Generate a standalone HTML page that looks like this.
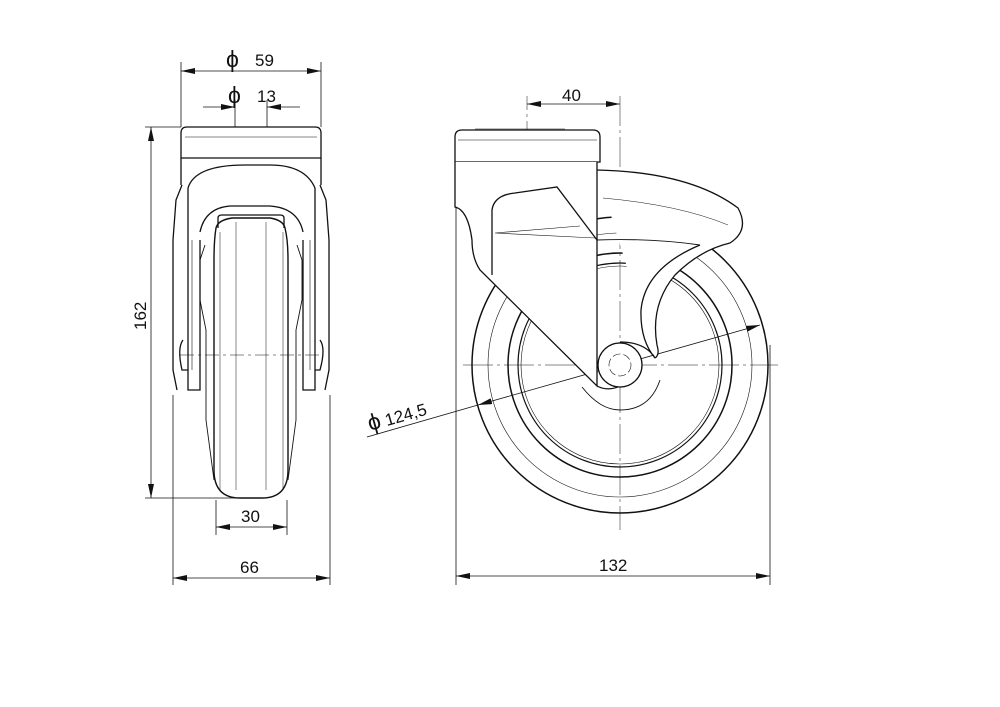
<!DOCTYPE html>
<html><head><style>
html,body{margin:0;padding:0;background:#fff;}
svg{display:block;}
text{font-family:"Liberation Sans",sans-serif;font-size:17px;fill:#111;}
.p{font-size:23px;}
</style></head><body>
<svg width="1000" height="707" viewBox="0 0 1000 707" xmlns="http://www.w3.org/2000/svg">
<defs>
<marker id="a" viewBox="0 0 14 6" refX="14" refY="3" markerWidth="14" markerHeight="6" orient="auto-start-reverse" markerUnits="userSpaceOnUse"><path d="M0,0 L14,3 L0,6 z" fill="#111"/></marker>
</defs>
<g fill="none" stroke="#111" stroke-width="0.8">
<line x1="181" y1="62" x2="181" y2="127"/><line x1="321" y1="62" x2="321" y2="127"/>
<line x1="181" y1="71" x2="321" y2="71" marker-start="url(#a)" marker-end="url(#a)"/>
<line x1="235" y1="100" x2="235" y2="127"/><line x1="267" y1="100" x2="267" y2="127"/>
<line x1="203" y1="107" x2="235" y2="107" marker-end="url(#a)"/>
<line x1="267" y1="107" x2="300" y2="107" marker-start="url(#a)"/>
<line x1="145" y1="127" x2="181" y2="127"/><line x1="145" y1="498" x2="250" y2="498"/>
<line x1="151" y1="127" x2="151" y2="498" marker-start="url(#a)" marker-end="url(#a)"/>
<line x1="216" y1="500" x2="216" y2="535"/><line x1="287" y1="500" x2="287" y2="535"/>
<line x1="216" y1="527" x2="287" y2="527" marker-start="url(#a)" marker-end="url(#a)"/>
<line x1="173" y1="395" x2="173" y2="585"/><line x1="330" y1="395" x2="330" y2="585"/>
<line x1="173" y1="578" x2="330" y2="578" marker-start="url(#a)" marker-end="url(#a)"/>
<line x1="180" y1="355" x2="322" y2="355" stroke-dasharray="14,4,3,4" stroke-width="0.5"/>
<line x1="527" y1="96" x2="527" y2="150" stroke-dasharray="14,4,3,4" stroke-width="0.5"/>
<line x1="620" y1="96" x2="620" y2="530" stroke-dasharray="30,4,3,4" stroke-width="0.5"/>
<line x1="527" y1="104" x2="620" y2="104" marker-start="url(#a)" marker-end="url(#a)"/>
<line x1="456" y1="205" x2="456" y2="585"/><line x1="770" y1="345" x2="770" y2="585"/>
<line x1="456" y1="576" x2="770" y2="576" marker-start="url(#a)" marker-end="url(#a)"/>
<line x1="463" y1="365" x2="778" y2="365" stroke-dasharray="30,4,3,4" stroke-width="0.5"/>
<line x1="367" y1="437" x2="478" y2="405"/>
<line x1="478" y1="405" x2="760" y2="325" marker-start="url(#a)" marker-end="url(#a)"/>
</g>
<text class="p" x="226" y="67">ϕ</text><text x="255" y="66">59</text>
<text class="p" x="228" y="103">ϕ</text><text x="257" y="102">13</text>
<text x="0" y="0" transform="translate(146,330) rotate(-90)">162</text>
<text x="241" y="522">30</text>
<text x="240" y="573">66</text>
<text x="562" y="101">40</text>
<text x="599" y="571">132</text>
<text x="0" y="0" transform="translate(370,431) rotate(-16)"><tspan class="p">ϕ</tspan> 124,5</text>

<g fill="none" stroke="#111" stroke-width="1.3">
<path d="M187,127 H315 Q321,127 321,133 V158 H181 V133 Q181,127 187,127 Z"/>
<line x1="185" y1="137" x2="317" y2="137" stroke-width="0.6"/>
<line x1="181" y1="158" x2="181" y2="185"/><line x1="321" y1="158" x2="321" y2="185"/>
<path d="M188,188 Q195,165 245,165 H270 Q305,165 315,188"/>
<path d="M182,185 L176,200 L173,240 L173,370 L177,390"/>
<path d="M320,185 L326,200 L329,240 L329,370 L325,390"/>
<path d="M188,188 L188,390 H200 V240"/>
<path d="M315,188 L315,390 H303 V240"/>
<path d="M183,340 Q177,348 182,370 H188"/><path d="M320,340 Q326,348 320,370 H315"/>
<path d="M200,232 Q205,208 230,206 H270 Q298,208 303,232"/>
<path d="M218,228 V218 Q218,215 222,215 H280 Q284,215 284,218 V228"/>
<path d="M216,228 Q214,240 214,260 V470 Q214,498 240,498 H262 Q288,498 288,470 V260 Q288,240 285,228 Q283,220 270,218 H232 Q218,220 216,228Z" stroke-width="1.4"/>
<path d="M205,245 L200,260 V300 L206,330 V420 L214,480" stroke-width="0.9"/>
<path d="M297,245 L302,260 V300 L296,330 V420 L288,480" stroke-width="0.9"/>
<line x1="236" y1="222" x2="236" y2="490" stroke-width="0.5"/>
<line x1="266" y1="222" x2="266" y2="490" stroke-width="0.5"/>
<line x1="220" y1="232" x2="220" y2="490" stroke-width="0.5"/>
<line x1="283" y1="232" x2="283" y2="490" stroke-width="0.5"/>
<line x1="192" y1="240" x2="192" y2="370" stroke-width="0.6"/>
<line x1="310" y1="240" x2="310" y2="370" stroke-width="0.6"/>
</g>

<g fill="none" stroke="#111" stroke-width="1.3">
<circle cx="620" cy="365" r="148" stroke-width="1.5"/>
<circle cx="620" cy="365" r="132" stroke-width="0.6"/>
<circle cx="620" cy="365" r="112" stroke-width="1.5"/>
<circle cx="620" cy="365" r="102" stroke-width="1.2"/>
<circle cx="620" cy="365" r="99" stroke-width="0.6"/>
<path d="M462,130 H593 Q600,130 600,137 V162 H455 V137 Q455,130 462,130 Z" fill="#fff"/>
<line x1="458" y1="140" x2="597" y2="140" stroke-width="0.6"/>
<line x1="475" y1="129" x2="565" y2="129" stroke-width="0.6"/>
<path d="M597,170 Q690,172 738,208 Q750,230 730,243 Q700,250 675,275 Q650,305 657,345 Q660,355 655,358" fill="#fff"/>
<path d="M655,358 Q640,340 641,310 Q645,268 700,245" fill="none"/>
<path d="M597,240 Q650,238 700,245" stroke-width="0.9"/>
<path d="M603,198 Q680,205 728,225" stroke-width="0.5"/>
<path d="M455,162 V207 Q468,210 472,240 Q472,258 480,270 L597,386 V162" fill="#fff"/>
<path d="M597,386 A23,23 0 1 0 620,342 Q645,342 655,358" stroke-width="1.2"/>
<path d="M492,275 V210 Q494,195 515,193 L557,187 L597,240" />
<path d="M495,233 L580,226 M495,233 L595,238" stroke-width="0.6"/>
<circle cx="620" cy="365" r="22" fill="#fff"/>
<circle cx="620" cy="365" r="11" stroke-width="0.6" stroke-dasharray="8,3"/>
<path d="M582,387 Q600,410 620,410 Q650,410 660,380" stroke-width="0.9"/>
</g>
</svg>
</body></html>
